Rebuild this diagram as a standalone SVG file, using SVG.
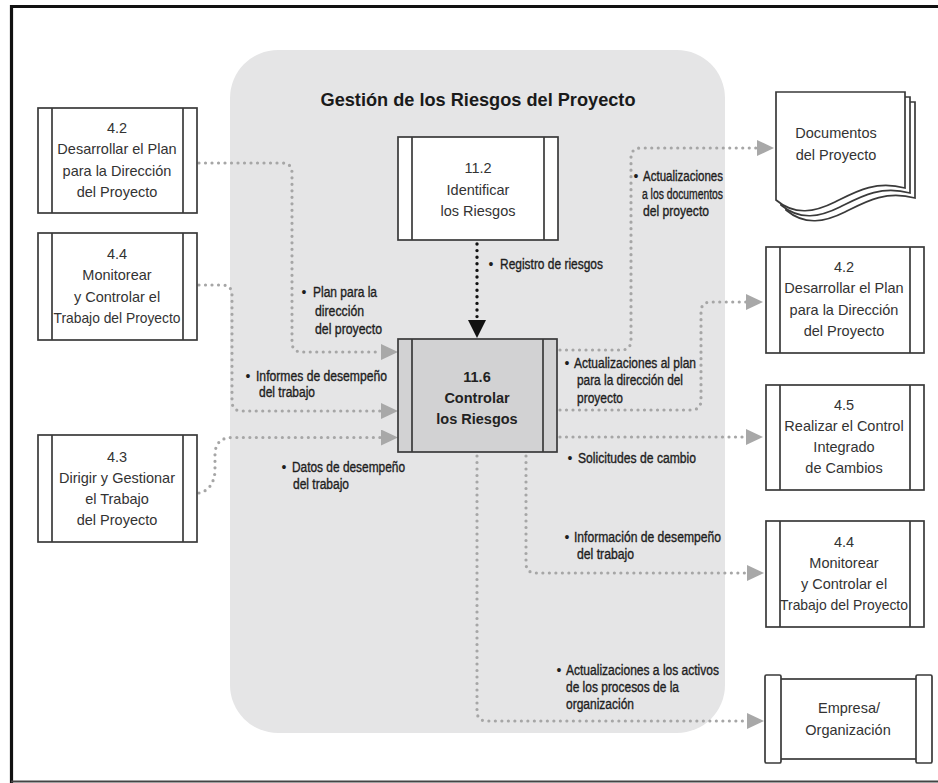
<svg xmlns="http://www.w3.org/2000/svg" width="938" height="783" viewBox="0 0 938 783">
  <defs>
    <style>
      .box { fill: #ffffff; stroke: #3a3a3a; stroke-width: 1.7; }
      .bar { stroke: #3a3a3a; stroke-width: 1.7; }
      .ntext { font-family: "Liberation Sans", Arial, sans-serif; font-size: 14.5px; fill: #333333; text-anchor: middle; }
      .btext { font-family: "Liberation Sans", Arial, sans-serif; font-size: 14.5px; font-weight: bold; fill: #222222; text-anchor: middle; }
      .lbl { font-family: "Liberation Sans Narrow", "Liberation Sans", Arial, sans-serif; font-size: 14px; fill: #1e1e1e; stroke: #1e1e1e; stroke-width: 0.35; }
      .dot { font-family: "Liberation Sans", Arial, sans-serif; font-size: 14px; fill: #1e1e1e; text-anchor: middle; }
      .flow { fill: none; stroke: #a6a6a6; stroke-width: 3.2; stroke-linecap: round; stroke-dasharray: 0 6.5; marker-end: url(#grayHead); }
      .flowDark { fill: none; stroke: #111111; stroke-width: 3.4; stroke-linecap: round; stroke-dasharray: 0 6.6; marker-end: url(#blackHead); }
    </style>
    <marker id="grayHead" markerUnits="userSpaceOnUse" markerWidth="18" markerHeight="17" refX="0" refY="8" orient="auto">
      <path d="M0,0 L17,8 L0,16 Z" fill="#a8a8a8"/>
    </marker>
    <marker id="blackHead" markerUnits="userSpaceOnUse" markerWidth="18" markerHeight="19" refX="0" refY="9" orient="auto">
      <path d="M0,0 L18,9 L0,18 Z" fill="#111111"/>
    </marker>
  </defs>

  <rect x="0" y="0" width="938" height="783" fill="#ffffff"/>

  <!-- frame -->
  <g id="frame" fill="none">
    <path d="M11.5,783 V6.5 H938" stroke="#111111" stroke-width="3.2"/>
    <path d="M11,781.5 H938" stroke="#444444" stroke-width="2"/>
  </g>

  <!-- process group background -->
  <g id="group-riesgos">
    <rect x="230" y="50" width="495" height="683" rx="48" ry="48" fill="#e5e5e6"/>
    <text x="478" y="106" font-family="Liberation Sans, Arial, sans-serif" font-size="18.5" font-weight="bold" fill="#1a1a1a" text-anchor="middle" textLength="315" lengthAdjust="spacingAndGlyphs">Gestión de los Riesgos del Proyecto</text>
  </g>

  <!-- connectors -->
  <g id="connectors">
    <path class="flow" d="M199,163 H282 Q292,163 292,173 V342 Q292,352 302,352 H381"/>
    <path class="flow" d="M199,285 H222 Q232,285 232,295 V401 Q232,411 242,411 H381"/>
    <path class="flow" d="M199,493 Q213,490 215,472 V452 Q217,437.5 232,437.5 H381"/>
    <path class="flowDark" d="M477,244 V320"/>
    <path class="flow" d="M560,350 H621 Q631,350 631,340 V158 Q631,148 641,148 H757"/>
    <path class="flow" d="M560,410 H691 Q701,410 701,400 V312 Q701,302 711,302 H746"/>
    <path class="flow" d="M560,437 H746"/>
    <path class="flow" d="M526,456 V563 Q526,573 536,573 H747"/>
    <path class="flow" d="M477,456 V711 Q477,721 487,721 H747"/>
  </g>

  <!-- connector labels -->
  <g id="labels">
    <text class="dot" x="491" y="269">•</text>
    <text class="lbl" x="500" y="269" textLength="103" lengthAdjust="spacingAndGlyphs">Registro de riesgos</text>

    <text class="dot" x="304" y="297">•</text>
    <text class="lbl" x="313" y="297" textLength="64" lengthAdjust="spacingAndGlyphs">Plan para la</text>
    <text class="lbl" x="315" y="316" textLength="49" lengthAdjust="spacingAndGlyphs">dirección</text>
    <text class="lbl" x="315" y="334" textLength="67" lengthAdjust="spacingAndGlyphs">del proyecto</text>

    <text class="dot" x="248" y="381">•</text>
    <text class="lbl" x="256" y="381" textLength="131" lengthAdjust="spacingAndGlyphs">Informes de desempeño</text>
    <text class="lbl" x="259" y="397" textLength="56" lengthAdjust="spacingAndGlyphs">del trabajo</text>

    <text class="dot" x="284" y="472">•</text>
    <text class="lbl" x="292" y="472" textLength="113" lengthAdjust="spacingAndGlyphs">Datos de desempeño</text>
    <text class="lbl" x="293" y="489" textLength="56" lengthAdjust="spacingAndGlyphs">del trabajo</text>

    <text class="dot" x="636" y="181">•</text>
    <text class="lbl" x="643" y="181" textLength="80" lengthAdjust="spacingAndGlyphs">Actualizaciones</text>
    <text class="lbl" x="642" y="199" textLength="81" lengthAdjust="spacingAndGlyphs">a los documentos</text>
    <text class="lbl" x="643" y="216" textLength="66" lengthAdjust="spacingAndGlyphs">del proyecto</text>

    <text class="dot" x="567" y="368">•</text>
    <text class="lbl" x="574" y="368" textLength="122" lengthAdjust="spacingAndGlyphs">Actualizaciones al plan</text>
    <text class="lbl" x="577" y="385" textLength="106" lengthAdjust="spacingAndGlyphs">para la dirección del</text>
    <text class="lbl" x="577" y="403" textLength="46" lengthAdjust="spacingAndGlyphs">proyecto</text>

    <text class="dot" x="570" y="463">•</text>
    <text class="lbl" x="578" y="463" textLength="118" lengthAdjust="spacingAndGlyphs">Solicitudes de cambio</text>

    <text class="dot" x="567" y="542">•</text>
    <text class="lbl" x="574" y="542" textLength="147" lengthAdjust="spacingAndGlyphs">Información de desempeño</text>
    <text class="lbl" x="577" y="559" textLength="57" lengthAdjust="spacingAndGlyphs">del trabajo</text>

    <text class="dot" x="559" y="675">•</text>
    <text class="lbl" x="566" y="675" textLength="153" lengthAdjust="spacingAndGlyphs">Actualizaciones a los activos</text>
    <text class="lbl" x="566" y="692" textLength="113" lengthAdjust="spacingAndGlyphs">de los procesos de la</text>
    <text class="lbl" x="566" y="709" textLength="68" lengthAdjust="spacingAndGlyphs">organización</text>
  </g>

  <!-- input processes -->
  <g id="in-4-2">
    <rect class="box" x="38" y="108" width="159" height="105"/>
    <line class="bar" x1="52" y1="108" x2="52" y2="213"/>
    <line class="bar" x1="183" y1="108" x2="183" y2="213"/>
    <text class="ntext" x="117" y="133">4.2</text>
    <text class="ntext" x="117" y="154">Desarrollar el Plan</text>
    <text class="ntext" x="117" y="176">para la Dirección</text>
    <text class="ntext" x="117" y="197">del Proyecto</text>
  </g>

  <g id="in-4-4">
    <rect class="box" x="38" y="233" width="159" height="107"/>
    <line class="bar" x1="52" y1="233" x2="52" y2="340"/>
    <line class="bar" x1="183" y1="233" x2="183" y2="340"/>
    <text class="ntext" x="117" y="259">4.4</text>
    <text class="ntext" x="117" y="280">Monitorear</text>
    <text class="ntext" x="117" y="302">y Controlar el</text>
    <text class="ntext" x="117" y="323" textLength="127" lengthAdjust="spacingAndGlyphs">Trabajo del Proyecto</text>
  </g>

  <g id="in-4-3">
    <rect class="box" x="38" y="435" width="159" height="107"/>
    <line class="bar" x1="52" y1="435" x2="52" y2="542"/>
    <line class="bar" x1="183" y1="435" x2="183" y2="542"/>
    <text class="ntext" x="117" y="462">4.3</text>
    <text class="ntext" x="117" y="483">Dirigir y Gestionar</text>
    <text class="ntext" x="117" y="504">el Trabajo</text>
    <text class="ntext" x="117" y="525">del Proyecto</text>
  </g>

  <g id="p-11-2">
    <rect class="box" x="398" y="137" width="160" height="103"/>
    <line class="bar" x1="412" y1="137" x2="412" y2="240"/>
    <line class="bar" x1="544" y1="137" x2="544" y2="240"/>
    <text class="ntext" x="478" y="173">11.2</text>
    <text class="ntext" x="478" y="195">Identificar</text>
    <text class="ntext" x="478" y="216">los Riesgos</text>
  </g>

  <g id="p-11-6">
    <rect class="box" x="398" y="339" width="159" height="113" style="fill:#d2d2d3"/>
    <line class="bar" x1="412" y1="339" x2="412" y2="452"/>
    <line class="bar" x1="543" y1="339" x2="543" y2="452"/>
    <text class="btext" x="477" y="382">11.6</text>
    <text class="btext" x="477" y="403">Controlar</text>
    <text class="btext" x="477" y="424">los Riesgos</text>
  </g>

  <!-- outputs -->
  <g id="out-documentos">
    <path class="box" d="M786,102 H915 V198 C885,190 865,202 845,212 C825,222 805,226 786,210 Z"/>
    <path class="box" d="M781,97 H910 V193 C880,185 860,197 840,207 C820,217 800,221 781,205 Z"/>
    <path class="box" d="M776,92 H905 V188 C875,180 855,192 835,202 C815,212 795,216 776,200 Z"/>
    <text class="ntext" x="836" y="138">Documentos</text>
    <text class="ntext" x="836" y="160">del Proyecto</text>
  </g>

  <g id="out-4-2">
    <rect class="box" x="766" y="247" width="158" height="106"/>
    <line class="bar" x1="780" y1="247" x2="780" y2="353"/>
    <line class="bar" x1="910" y1="247" x2="910" y2="353"/>
    <text class="ntext" x="844" y="272">4.2</text>
    <text class="ntext" x="844" y="293">Desarrollar el Plan</text>
    <text class="ntext" x="844" y="315">para la Dirección</text>
    <text class="ntext" x="844" y="336">del Proyecto</text>
  </g>

  <g id="out-4-5">
    <rect class="box" x="766" y="385" width="158" height="105"/>
    <line class="bar" x1="780" y1="385" x2="780" y2="490"/>
    <line class="bar" x1="910" y1="385" x2="910" y2="490"/>
    <text class="ntext" x="844" y="410">4.5</text>
    <text class="ntext" x="844" y="431">Realizar el Control</text>
    <text class="ntext" x="844" y="452">Integrado</text>
    <text class="ntext" x="844" y="473">de Cambios</text>
  </g>

  <g id="out-4-4">
    <rect class="box" x="766" y="521" width="158" height="106"/>
    <line class="bar" x1="780" y1="521" x2="780" y2="627"/>
    <line class="bar" x1="910" y1="521" x2="910" y2="627"/>
    <text class="ntext" x="844" y="547">4.4</text>
    <text class="ntext" x="844" y="568">Monitorear</text>
    <text class="ntext" x="844" y="589">y Controlar el</text>
    <text class="ntext" x="844" y="610" textLength="128" lengthAdjust="spacingAndGlyphs">Trabajo del Proyecto</text>
  </g>

  <g id="out-empresa">
    <rect class="box" x="780" y="679" width="137" height="80"/>
    <rect class="box" x="765" y="675" width="16" height="88" rx="1.5"/>
    <rect class="box" x="916" y="675" width="16" height="88" rx="1.5"/>
    <text class="ntext" x="849" y="713">Empresa/</text>
    <text class="ntext" x="848" y="735">Organización</text>
  </g>
</svg>
